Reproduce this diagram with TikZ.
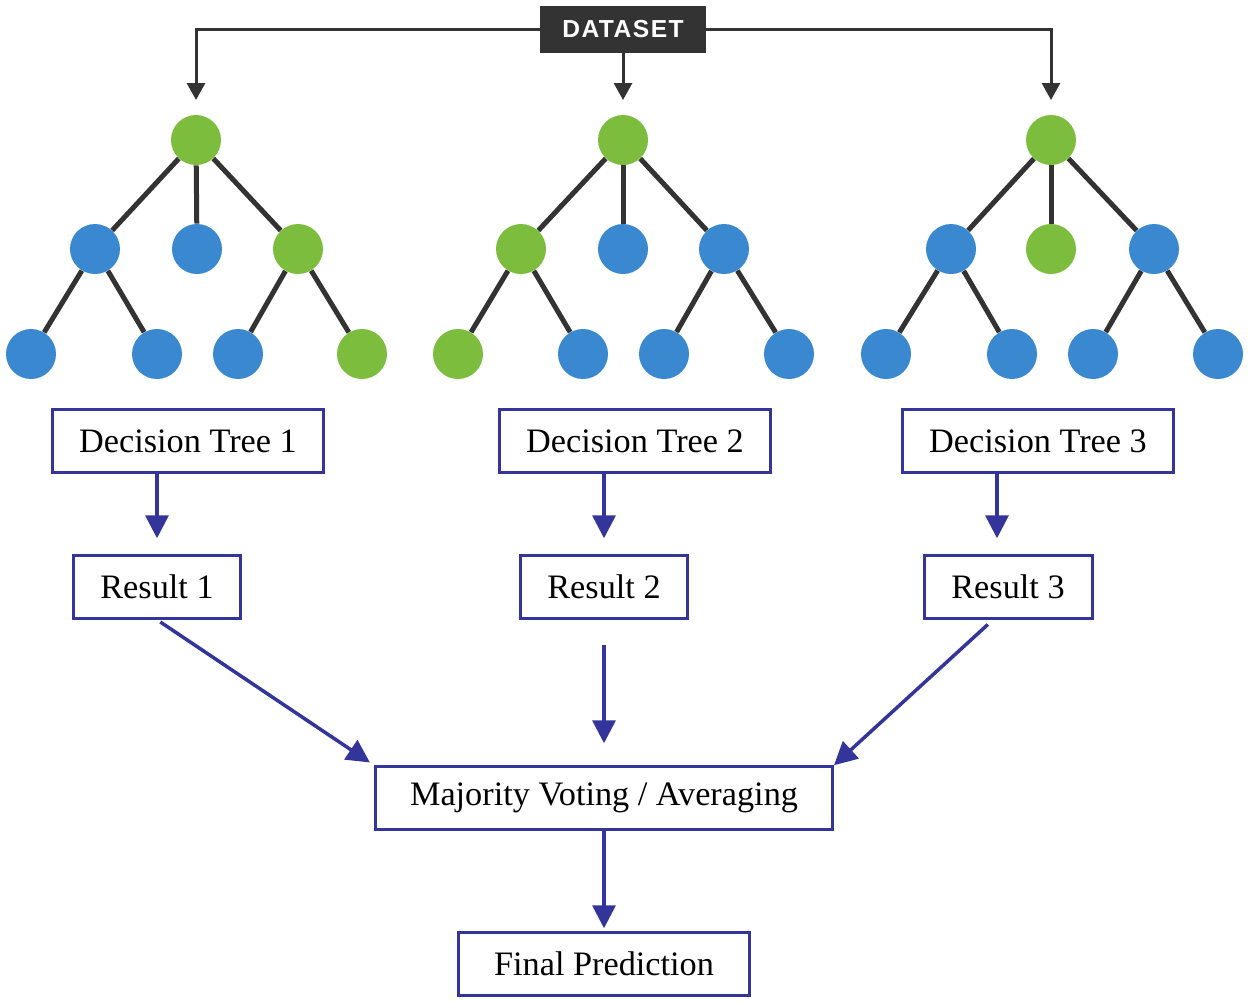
\documentclass[tikz,border=0pt]{standalone}
\usepackage{fontspec}
\setmainfont{Liberation Serif}
\newfontfamily\dsfont[LetterSpace=6]{Liberation Sans}
\usepackage{tikz}
\usetikzlibrary{arrows.meta}
\definecolor{leafgreen}{HTML}{7DBD3D}
\definecolor{leafblue}{HTML}{3A88CF}
\definecolor{boxblue}{HTML}{33359A}
\definecolor{darkgray}{HTML}{333333}
\tikzset{
  font={\fontsize{19.5pt}{21pt}\selectfont}}

\begin{document}
\begin{tikzpicture}[x=0.02cm, y=-0.02cm,
  gn/.style={circle, fill=leafgreen, minimum size=1cm, inner sep=0pt},
  bn/.style={circle, fill=leafblue, minimum size=1cm, inner sep=0pt},
  edge/.style={line width=0.1cm, darkgray},
  stepbox/.style={draw=boxblue, line width=0.06cm, shape=rectangle, minimum height=1.25cm, inner sep=0pt, fill=white},
  flow/.style={boxblue, line width=0.07cm, -{Triangle[width=0.46cm, length=0.46cm]}},
  feed/.style={darkgray, line width=0.06cm, -{Triangle[width=0.36cm, length=0.34cm]}}]
\useasboundingbox (0,0) rectangle (1250,1002);

% dataset and feed lines
\node (ds) at (623,29) [fill=darkgray, text=white, minimum width=3.32cm, minimum height=0.94cm, inner sep=0pt]
  {\dsfont\bfseries\fontsize{14pt}{16pt}\selectfont DATASET};
\coordinate (f1) at (196,100);
\coordinate (f2) at (623,100);
\coordinate (f3) at (1051,100);
\draw[feed] (ds.west) -| (f1);
\draw[feed] (ds.south) -- (f2);
\draw[feed] (ds.east) -| (f3);

% tree 1
\node (a0) at (196,140) [gn] {};
\node (a1) at (95,249) [bn] {};
\node (a2) at (197,249) [bn] {};
\node (a3) at (298,249) [gn] {};
\node (a4) at (31,354) [bn] {};
\node (a5) at (157,354) [bn] {};
\node (a6) at (238,354) [bn] {};
\node (a7) at (362,354) [gn] {};
% tree 2
\node (b0) at (623,140) [gn] {};
\node (b1) at (521,249) [gn] {};
\node (b2) at (623,249) [bn] {};
\node (b3) at (724,249) [bn] {};
\node (b4) at (458,354) [gn] {};
\node (b5) at (583,354) [bn] {};
\node (b6) at (664,354) [bn] {};
\node (b7) at (789,354) [bn] {};
% tree 3
\node (c0) at (1051,140) [gn] {};
\node (c1) at (951,249) [bn] {};
\node (c2) at (1051,249) [gn] {};
\node (c3) at (1154,249) [bn] {};
\node (c4) at (886,354) [bn] {};
\node (c5) at (1012,354) [bn] {};
\node (c6) at (1093,354) [bn] {};
\node (c7) at (1218,354) [bn] {};

\draw[edge] (a0) -- (a1);
\draw[edge] (a0) -- (a2);
\draw[edge] (a0) -- (a3);
\draw[edge] (a1) -- (a4);
\draw[edge] (a1) -- (a5);
\draw[edge] (a3) -- (a6);
\draw[edge] (a3) -- (a7);
\draw[edge] (b0) -- (b1);
\draw[edge] (b0) -- (b2);
\draw[edge] (b0) -- (b3);
\draw[edge] (b1) -- (b4);
\draw[edge] (b1) -- (b5);
\draw[edge] (b3) -- (b6);
\draw[edge] (b3) -- (b7);
\draw[edge] (c0) -- (c1);
\draw[edge] (c0) -- (c2);
\draw[edge] (c0) -- (c3);
\draw[edge] (c1) -- (c4);
\draw[edge] (c1) -- (c5);
\draw[edge] (c3) -- (c6);
\draw[edge] (c3) -- (c7);

% boxes
\node (t1) at (188,441) [stepbox, minimum width=5.42cm] {Decision Tree 1};
\node (t2) at (635,441) [stepbox, minimum width=5.42cm] {Decision Tree 2};
\node (t3) at (1038,441) [stepbox, minimum width=5.42cm] {Decision Tree 3};
\node (r1) at (157,587) [stepbox, minimum width=3.36cm] {Result 1};
\node (r2) at (604,587) [stepbox, minimum width=3.36cm] {Result 2};
\node (r3) at (1008,587) [stepbox, minimum width=3.36cm] {Result 3};
\node (mv) at (604,798) [stepbox, minimum width=9.14cm] {Majority Voting / Averaging};
\node (fp) at (604,964) [stepbox, minimum width=5.82cm] {Final Prediction};

\draw[flow, shorten >=0.32cm] (t1.south -| r1.north) -- (r1.north);
\draw[flow, shorten >=0.32cm] (t2.south -| r2.north) -- (r2.north);
\draw[flow, shorten >=0.32cm] ([xshift=-0.22cm]t3.south -| r3.north) -- ([xshift=-0.22cm]r3.north);
\draw[flow, shorten <=0.08cm, shorten >=0.1cm] (r1.south) -- (mv.north west);
\draw[flow, shorten <=0.5cm, shorten >=0.44cm] (r2.south) -- (mv.north);
\draw[flow, shorten <=0.14cm, shorten >=0.0cm] ([xshift=-0.3cm]r3.south) -- (mv.north east);
\draw[flow, shorten >=0.06cm] (mv.south) -- (fp.north);
\end{tikzpicture}
\end{document}
